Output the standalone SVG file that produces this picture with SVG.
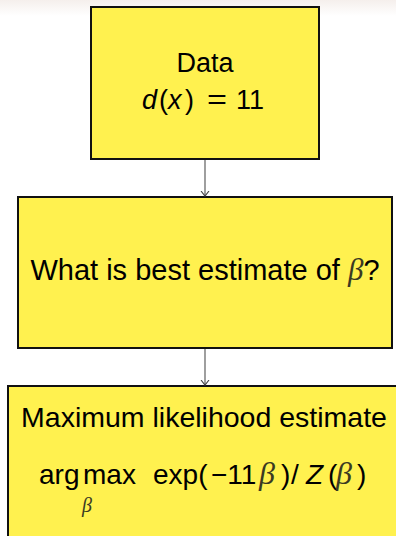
<svg xmlns="http://www.w3.org/2000/svg" width="396" height="536" viewBox="0 0 396 536">
<defs>
<linearGradient id="topfade" x1="0" y1="0" x2="0" y2="1">
<stop offset="0" stop-color="#f5efec"/>
<stop offset="1" stop-color="#ffffff"/>
</linearGradient>
<marker id="arr" viewBox="0 0 6 10" refX="5.5" refY="5" markerWidth="6" markerHeight="10" markerUnits="userSpaceOnUse" orient="auto">
<path d="M0.5,1 L5.5,5 L0.5,9" fill="none" stroke="#444" stroke-width="1.1"/>
</marker>
</defs>
<style>
.box{fill:#fff14f;stroke:#111;stroke-width:2}
.t{font-family:"Liberation Sans",Arial,sans-serif;fill:#000}
.it{font-style:italic}
.b{font-family:"Liberation Serif","Times New Roman",serif;font-style:italic;fill:#3a3a22}
.conn{stroke:#6b6b6b;stroke-width:1.3;fill:none}
</style>
<rect x="0" y="0" width="396" height="536" fill="#ffffff"/>
<rect x="0" y="0" width="396" height="16" fill="url(#topfade)"/>
<g id="data">
<rect class="box" x="91" y="7" width="228" height="152"/>
<text class="t" x="205" y="72" font-size="27" text-anchor="middle">Data</text>
<text class="t" font-size="27" y="109"><tspan x="142" class="it">d</tspan><tspan x="159">(</tspan><tspan x="168" class="it">x</tspan><tspan x="185">)</tspan></text>
<text class="t" font-size="27" y="109" x="207" textLength="20" lengthAdjust="spacingAndGlyphs">=</text>
<text class="t" font-size="27" y="109" x="236">11</text>
</g>
<g id="question">
<rect class="box" x="18" y="197" width="374" height="151"/>
<text class="t" x="205" y="280" font-size="29" text-anchor="middle">What is best estimate of <tspan class="b" font-size="31">β</tspan>?</text>
</g>
<g id="mle">
<rect class="box" x="8" y="386" width="400" height="160"/>
<text class="t" x="204" y="427" font-size="28.5" text-anchor="middle">Maximum likelihood estimate</text>
<text class="t" font-size="28" y="484"><tspan x="39">arg</tspan><tspan x="83">max</tspan><tspan x="153">exp(</tspan><tspan x="211">−11</tspan></text>
<text class="b" x="259" y="484" font-size="32">β</text>
<text class="t" font-size="28" y="484"><tspan x="281">)</tspan><tspan x="291">/</tspan><tspan x="306" class="it">Z</tspan><tspan x="328">(</tspan><tspan x="357">)</tspan></text>
<text class="b" x="336" y="484" font-size="32">β</text>
<text class="b" x="82" y="512" font-size="20">β</text>
</g>
<g id="connectors">
<line class="conn" x1="205" y1="160" x2="205" y2="196" marker-end="url(#arr)"/>
<line class="conn" x1="205" y1="349" x2="205" y2="385" marker-end="url(#arr)"/>
</g>
</svg>
